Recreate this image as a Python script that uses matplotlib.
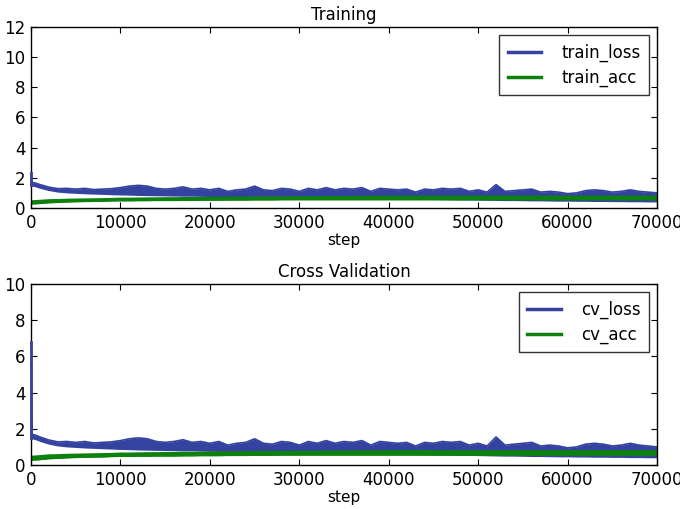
import numpy as np
import matplotlib
matplotlib.use('Agg')
import matplotlib.pyplot as plt
from matplotlib.lines import Line2D

steps = [0, 100, 500] + list(range(1000, 71000, 1000))

# upper edge of the noisy loss band (spikes included)
loss_upper = [2.3, 1.7, 1.65,
              1.55, 1.38, 1.28, 1.3, 1.25, 1.3, 1.22, 1.25, 1.28, 1.35,
              1.45, 1.5, 1.45, 1.3, 1.25, 1.3, 1.4, 1.25, 1.3, 1.2,
              1.3, 1.1, 1.2, 1.25, 1.45, 1.2, 1.15, 1.3, 1.25, 1.1,
              1.3, 1.2, 1.35, 1.2, 1.3, 1.25, 1.35, 1.1, 1.3, 1.25,
              1.2, 1.25, 1.05, 1.25, 1.2, 1.3, 1.25, 1.3, 1.1, 1.2,
              1.05, 1.55, 1.1, 1.15, 1.2, 1.25, 1.05, 1.1, 1.05, 0.95,
              1.0, 1.15, 1.2, 1.15, 1.05, 1.1, 1.2, 1.1, 1.05, 1.0]
# lower edge of the loss band
loss_lower = [1.5, 1.45, 1.4,
              1.3, 1.15, 1.05, 1.0, 0.97, 0.94, 0.92, 0.9, 0.88, 0.86,
              0.85, 0.83, 0.82, 0.81, 0.8, 0.79, 0.78, 0.78, 0.77, 0.76,
              0.75, 0.75, 0.74, 0.73, 0.72, 0.71, 0.7, 0.7, 0.69, 0.68,
              0.67, 0.67, 0.66, 0.65, 0.64, 0.63, 0.62, 0.62, 0.61, 0.6,
              0.59, 0.58, 0.58, 0.57, 0.56, 0.55, 0.54, 0.53, 0.53, 0.52,
              0.51, 0.5, 0.49, 0.49, 0.48, 0.47, 0.47, 0.46, 0.45, 0.45,
              0.44, 0.44, 0.43, 0.43, 0.42, 0.42, 0.41, 0.41, 0.4, 0.4]
# accuracy band edges
acc_upper = [0.5, 0.55, 0.56,
             0.58, 0.62, 0.63, 0.65, 0.66, 0.67, 0.68, 0.69, 0.7, 0.72,
             0.72, 0.73, 0.74, 0.74, 0.75, 0.75, 0.76, 0.76, 0.77, 0.78,
             0.78, 0.78, 0.79, 0.79, 0.8, 0.8, 0.8, 0.81, 0.81, 0.82,
             0.82, 0.82, 0.83, 0.83, 0.83, 0.84, 0.84, 0.84, 0.85, 0.85,
             0.85, 0.85, 0.85, 0.85, 0.85, 0.85, 0.85, 0.85, 0.85, 0.85,
             0.85, 0.85, 0.85, 0.85, 0.85, 0.85, 0.85, 0.85, 0.85, 0.85,
             0.85, 0.85, 0.85, 0.85, 0.85, 0.85, 0.85, 0.85, 0.85, 0.85]
acc_lower = [0.25, 0.27, 0.28,
             0.3, 0.35, 0.37, 0.4, 0.42, 0.43, 0.44, 0.45, 0.47, 0.48,
             0.48, 0.49, 0.49, 0.5, 0.5, 0.5, 0.51, 0.51, 0.52, 0.52,
             0.52, 0.53, 0.53, 0.53, 0.54, 0.54, 0.54, 0.55, 0.55, 0.55,
             0.55, 0.55, 0.55, 0.55, 0.55, 0.55, 0.55, 0.55, 0.55, 0.55,
             0.55, 0.55, 0.55, 0.55, 0.55, 0.55, 0.55, 0.55, 0.55, 0.55,
             0.55, 0.55, 0.55, 0.55, 0.55, 0.55, 0.55, 0.55, 0.55, 0.55,
             0.55, 0.55, 0.55, 0.55, 0.55, 0.55, 0.55, 0.55, 0.55, 0.55]

# cross validation curves look the same, except for a taller first point
cv_loss_start = 6.8
cv_loss_upper = [cv_loss_start] + loss_upper[1:]
cv_loss_lower = loss_lower
cv_acc_upper = acc_upper
cv_acc_lower = acc_lower

xticks = [0, 10000, 20000, 30000, 40000, 50000, 60000, 70000]

blue = '#3443a0'
green = '#0e800e'

plt.rcParams['font.family'] = ['DejaVu Sans']
plt.rcParams['font.size'] = 12

fig = plt.figure(figsize=(6.8, 5.09), dpi=100)
ax1 = fig.add_axes([0.0456, 0.5914, 0.9206, 0.3556])
ax2 = fig.add_axes([0.0456, 0.0864, 0.9206, 0.3556])


def draw(ax, lu, ll, au, al, title, names, ymax):
    ax.fill_between(steps, ll, lu, color=blue, lw=0)
    ax.plot(steps, lu, color=blue, lw=1.2)
    # first logged value sits on the left spine, draw it above the spine
    ax.plot([steps[0], steps[0]], [ll[0], lu[0]], color=blue, lw=2, zorder=3,
            clip_on=False)
    ax.fill_between(steps, al, au, color=green, lw=0)
    ax.plot(steps, al, color=green, lw=1)
    ax.set_xlim(0, 70000)
    ax.set_ylim(0, ymax)
    ax.set_xticks(xticks)
    ax.set_yticks(np.arange(0, ymax + 1, 2))
    ax.tick_params(direction='in', top=True, right=True, length=4, labelsize=12, pad=4)
    ax.set_xlabel('step', fontsize=11, labelpad=1)
    ax.set_title(title, fontsize=12, pad=5)
    handles = [Line2D([], [], color=blue, lw=2.5), Line2D([], [], color=green, lw=2.5)]
    leg = ax.legend(handles, names, loc='upper right', fontsize=12, fancybox=False,
                    handlelength=2.0, borderpad=0.5, labelspacing=0.4, handletextpad=1.2)
    leg.get_frame().set_edgecolor('black')
    leg.get_frame().set_linewidth(1.0)
    for s in ax.spines.values():
        s.set_linewidth(1.0)


draw(ax1, loss_upper, loss_lower, acc_upper, acc_lower, 'Training',
     ['train_loss', 'train_acc'], 12)
draw(ax2, cv_loss_upper, cv_loss_lower, cv_acc_upper, cv_acc_lower, 'Cross Validation',
     ['cv_loss', 'cv_acc'], 10)

fig.savefig('out.png', dpi=100, facecolor='white')
